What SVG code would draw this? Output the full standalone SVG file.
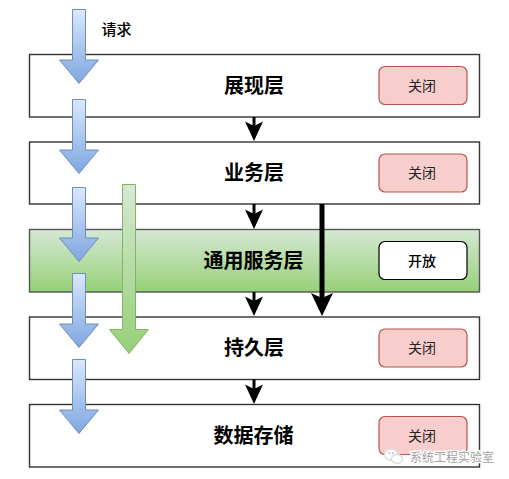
<svg xmlns="http://www.w3.org/2000/svg" width="509" height="479" viewBox="0 0 509 479">
<style>
text{font-family:"Noto Sans CJK SC","Liberation Sans",sans-serif;text-anchor:middle;fill:#000}
.layer{fill:#fff;stroke:#333;stroke-width:1.4}
.title{font-size:20px;font-weight:700}
.btn{fill:#f8cecc;stroke:#b85450;stroke-width:1.2}
.btnt{font-size:14px;fill:#222}
.blue{fill:url(#bg);stroke:#6c8ebf;stroke-width:1}
.green{fill:url(#gg);stroke:#82b366;stroke-width:1}
.c{stroke:#000;fill:none}
</style>
<defs>
<linearGradient id="bg" x1="0" y1="0" x2="0" y2="1"><stop offset="0" stop-color="#dae8fc"/><stop offset="1" stop-color="#7ea6e0"/></linearGradient>
<linearGradient id="gg" x1="0" y1="0" x2="0" y2="1"><stop offset="0" stop-color="#d5e8d4"/><stop offset="1" stop-color="#97d077"/></linearGradient>
<path id="a" d="M0 0H13V50.500H26L6.500 74 -13 50.500H0Z"/>
</defs>
<g id="layer-presentation"><rect class="layer" x="29.500" y="54.500" width="450" height="62.500"/><text class="title" x="254" y="93">展现层</text><rect class="btn" x="379" y="66.500" width="88" height="38" rx="6"/><text class="btnt" x="422" y="91">关闭</text></g>
<g id="layer-business"><rect class="layer" x="29.500" y="142" width="450" height="62"/><text class="title" x="254" y="180">业务层</text><rect class="btn" x="379" y="154" width="88" height="38" rx="6"/><text class="btnt" x="422" y="178">关闭</text></g>
<g id="layer-common"><rect x="29.500" y="229.500" width="450" height="62.500" fill="url(#gg)" stroke="#555" stroke-width="1.400"/><text class="title" x="253.500" y="268">通用服务层</text><rect x="379" y="241.500" width="88" height="38" rx="6" fill="#fff" stroke="#000" stroke-width="1.200"/><text class="btnt" x="422" y="266" style="fill:#000;font-weight:500">开放</text></g>
<g id="layer-persistence"><rect class="layer" x="29.500" y="317" width="450" height="62.500"/><text class="title" x="254" y="355">持久层</text><rect class="btn" x="379" y="329" width="88" height="38" rx="6"/><text class="btnt" x="422" y="353">关闭</text></g>
<g id="layer-storage"><rect class="layer" x="29.500" y="404.500" width="450" height="62.500"/><text class="title" x="253.500" y="443">数据存储</text><rect class="btn" x="379" y="416.500" width="88" height="38" rx="6"/><text class="btnt" x="422" y="441">关闭</text></g>
<g id="connectors">
<g id="small-arrows">
<path class="c" stroke-width="3" d="M254 117V132"/><path d="M254 141L245 121.500 254 126 263 121.500Z"/>
<path class="c" stroke-width="3" d="M254 204V220"/><path d="M254 229L245 209.500 254 214 263 209.500Z"/>
<path class="c" stroke-width="3" d="M254 292V307"/><path d="M254 316L245 296.500 254 301 263 296.500Z"/>
<path class="c" stroke-width="3" d="M254 379.500V395"/><path d="M254 404L245 384.500 254 389 263 384.500Z"/>
<path class="c" stroke-width="5" d="M322 204V305"/><path d="M322 316L311 293 322 298 333 293Z"/>
</g>
<g id="flow-arrows">
<use href="#a" x="72.500" y="9.500" class="blue"/>
<use href="#a" x="72.500" y="99.500" class="blue"/>
<path class="green" d="M122.500 184.500H135.500V329.500H148.500L129 353.500 109.500 329.500H122.500Z"/>
<use href="#a" x="72.500" y="187.500" class="blue"/>
<use href="#a" x="72.500" y="273.500" class="blue"/>
<use href="#a" x="72.500" y="359.500" class="blue"/>
</g>
</g>
<text x="116.500" y="35" font-size="15" style="font-weight:500">请求</text>
<g id="watermark">
<ellipse cx="391" cy="454.500" rx="6.500" ry="5.500" fill="#fff" stroke="#ddd" stroke-width="1.500"/>
<ellipse cx="397" cy="459" rx="5.500" ry="4.500" fill="#fff" stroke="#ddd" stroke-width="1.500"/>
<circle cx="389" cy="453" r="1" fill="#bbb"/><circle cx="393" cy="453" r="1" fill="#bbb"/>
<text x="452" y="462" font-size="12" style="fill:#a0a0a0;stroke:#fff;stroke-width:2.500;paint-order:stroke">系统工程实验室</text>
</g>
</svg>
